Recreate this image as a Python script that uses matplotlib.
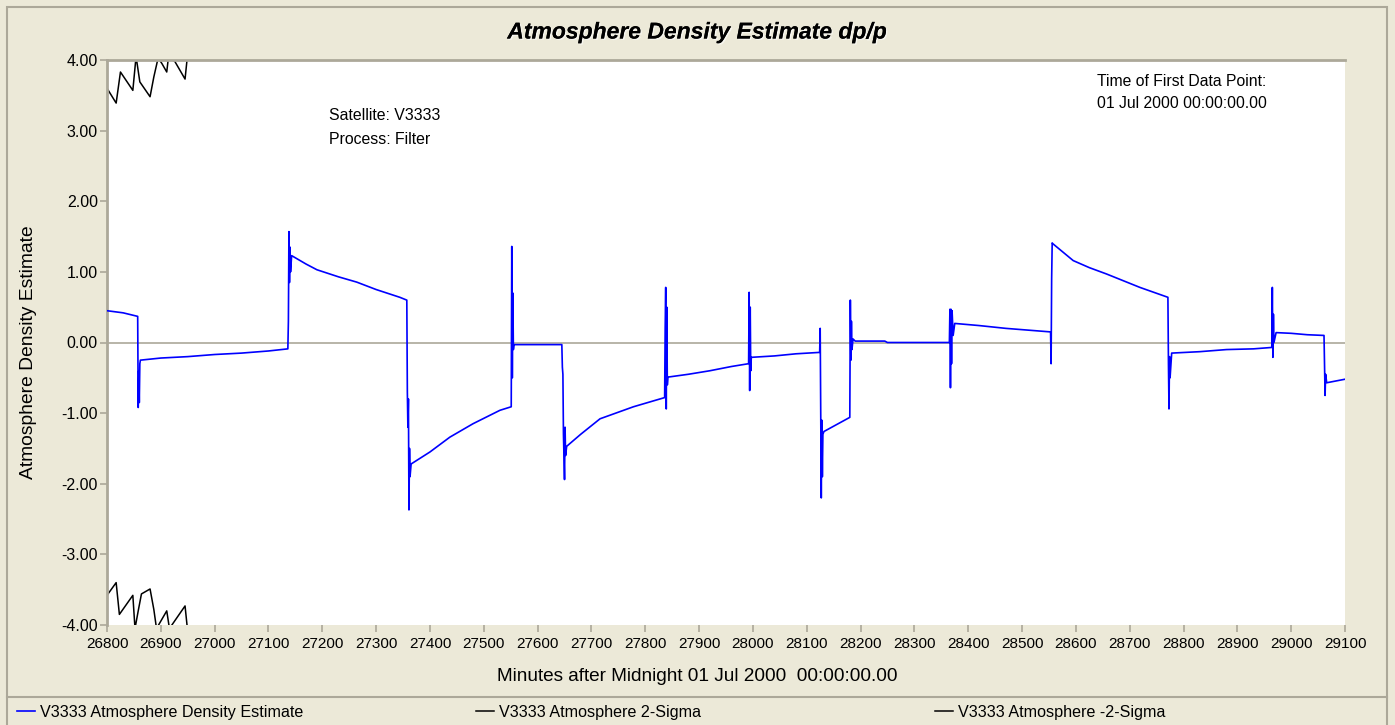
import matplotlib.pyplot as plt
import matplotlib.patheffects as pe
from matplotlib.lines import Line2D
from matplotlib.patches import Rectangle

plt.rcParams['font.family'] = ['Liberation Sans', 'DejaVu Sans']

# density estimate (minutes after midnight, dp/p)
minutes = [26800, 26830, 26857, 26858, 26859, 26860, 26861, 26862, 26900, 26950, 27000, 27050, 27100, 27136,
           27137, 27138, 27139, 27140, 27141, 27143, 27170, 27190, 27230, 27264, 27300, 27344, 27357,
           27358, 27359, 27360, 27361, 27362, 27363, 27365, 27400, 27437, 27480, 27530, 27551,
           27552, 27553, 27554, 27555, 27556, 27645,
           27646, 27647, 27648, 27650, 27651, 27652, 27654, 27680, 27716, 27778, 27836,
           27837, 27838, 27839, 27840, 27841, 27842, 27880, 27920, 27960, 27992,
           27993, 27994, 27995, 27996, 27997, 28040, 28080, 28124,
           28125, 28126, 28127, 28128, 28129, 28130, 28132, 28180,
           28181, 28182, 28183, 28184, 28186, 28190, 28245, 28250, 28365,
           28366, 28367, 28368, 28369, 28370, 28372, 28375, 28420, 28470, 28520, 28553,
           28554, 28555, 28556, 28557, 28595, 28625, 28657, 28719, 28771,
           28772, 28773, 28774, 28775, 28778, 28830, 28880, 28930, 28964,
           28965, 28966, 28967, 28968, 28972, 29000, 29030, 29061,
           29062, 29063, 29064, 29066, 29080, 29100]
density = [0.45, 0.42, 0.37, -0.92, -0.40, -0.85, -0.30, -0.25, -0.22, -0.20, -0.17, -0.15, -0.12, -0.09,
           0.30, 1.57, 0.85, 1.35, 1.00, 1.23, 1.11, 1.03, 0.93, 0.855, 0.75, 0.64, 0.60,
           -0.70, -1.20, -0.80, -2.37, -1.50, -1.90, -1.72, -1.55, -1.34, -1.15, -0.96, -0.91,
           1.36, -0.50, 0.70, -0.10, -0.03, -0.03,
           -0.35, -0.45, -1.30, -1.94, -1.20, -1.60, -1.47, -1.30, -1.08, -0.91, -0.78,
           0.20, 0.78, -0.94, 0.50, -0.60, -0.49, -0.45, -0.40, -0.34, -0.30,
           0.71, -0.68, 0.50, -0.40, -0.21, -0.19, -0.16, -0.14,
           0.20, -1.00, -2.20, -1.10, -1.90, -1.30, -1.26, -1.06,
           0.60, -0.25, 0.30, -0.10, 0.05, 0.02, 0.02, 0.00, 0.00,
           0.47, -0.64, 0.47, -0.30, 0.45, 0.10, 0.27, 0.24, 0.20, 0.17, 0.15,
           -0.30, 0.90, 1.41, 1.40, 1.16, 1.06, 0.97, 0.78, 0.64,
           -0.30, -0.94, -0.20, -0.50, -0.15, -0.13, -0.10, -0.09, -0.07,
           0.78, -0.21, 0.40, 0.00, 0.14, 0.13, 0.11, 0.10,
           -0.30, -0.75, -0.45, -0.57, -0.55, -0.52]

sig_up_t = [26800, 26817, 26825, 26848, 26854, 26861, 26880, 26887, 26895, 26902, 26911, 26914, 26926, 26945, 26950]
sig_up = [3.60, 3.39, 3.83, 3.57, 4.05, 3.69, 3.48, 3.76, 4.03, 3.95, 3.83, 4.03, 3.98, 3.73, 4.10]
sig_lo_t = [26800, 26817, 26823, 26848, 26852, 26858, 26864, 26880, 26887, 26892, 26911, 26916, 26945, 26950]
sig_lo = [-3.58, -3.40, -3.85, -3.58, -4.05, -3.80, -3.56, -3.49, -3.78, -4.05, -3.80, -4.05, -3.73, -4.10]

xticks = list(range(26800, 29101, 100))
yticks = [-4, -3, -2, -1, 0, 1, 2, 3, 4]

bg = '#ECE9D8'
frame = '#ACA899'

W, H = 1395, 725
fig = plt.figure(figsize=(W / 100, H / 100), dpi=100, facecolor=bg)
ax = fig.add_axes([107 / W, (H - 625) / H, (1345 - 107) / W, (625 - 60) / H])
ax.set_facecolor('white')

ax.axhline(0, color=frame, lw=1.2, zorder=1)
l1, = ax.plot(minutes, density, color='#0000FF', lw=1.2, zorder=3)
l2, = ax.plot(sig_up_t, sig_up, color='black', lw=1.1, zorder=2)
l3, = ax.plot(sig_lo_t, sig_lo, color='black', lw=1.1, zorder=2)

ax.set_xlim(26800, 29100)
ax.set_ylim(-4, 4)
ax.set_xticks(xticks)
ax.set_yticks(yticks)
ax.set_yticklabels([f'{v:.2f}' for v in yticks])
ax.tick_params(axis='both', colors=frame, labelcolor='black', length=5, width=1.2)
ax.tick_params(axis='x', labelsize=11, pad=4)
ax.tick_params(axis='y', labelsize=11.5, pad=1.5)

for s in ['right', 'bottom']:
    ax.spines[s].set_visible(False)
for s in ['left', 'top']:
    ax.spines[s].set_color(frame)
    ax.spines[s].set_linewidth(2)

# axis titles are centred on the whole chart, not the plot area
ax.set_xlabel('Minutes after Midnight 01 Jul 2000  00:00:00.00', fontsize=13.7)
ax.set_ylabel('Atmosphere Density Estimate', fontsize=13.9)
ax.xaxis.set_label_coords((697 - 107) / 1238, (625 - 668) / 565)
ax.yaxis.set_label_coords((37 - 107) / 1238, (625 - 352) / 565)

fig.text(697 / W, 1 - 32 / H, 'Atmosphere Density Estimate dp/p', ha='center', va='center',
         fontsize=16.5, fontweight='bold', fontstyle='italic',
         path_effects=[pe.withSimplePatchShadow(offset=(1, -1), shadow_rgbFace='white', alpha=0.6), pe.Normal()])

fig.text(329 / W, 1 - 116 / H, 'Satellite: V3333', fontsize=11.4, va='center')
fig.text(329 / W, 1 - 139 / H, 'Process: Filter', fontsize=11.4, va='center')
fig.text(1097 / W, 1 - 81 / H, 'Time of First Data Point:', fontsize=11.3, va='center')
fig.text(1097 / W, 1 - 103 / H, '01 Jul 2000 00:00:00.00', fontsize=11.3, va='center')

# frame and legend strip
fig.add_artist(Rectangle((7 / W, -0.01), (1387 - 7) / W, 1 - 7 / H + 0.01, transform=fig.transFigure,
                         fill=False, edgecolor=frame, lw=1.5))
fig.add_artist(Line2D([7 / W, 1387 / W], [1 - 697 / H] * 2, transform=fig.transFigure, color=frame, lw=1.5))

labels = ['V3333 Atmosphere Density Estimate', 'V3333 Atmosphere 2-Sigma', 'V3333 Atmosphere -2-Sigma']
for h, lab, x0 in zip([l1, l2, l3], labels, [17, 476, 935]):
    fig.legend(handles=[h], labels=[lab], loc='center left', bbox_to_anchor=(x0 / W, 1 - 712 / H),
               frameon=False, fontsize=11.6, handlelength=1.1, handletextpad=0.3, borderpad=0, borderaxespad=0)

fig.savefig('out.png', dpi=100, facecolor=bg)
